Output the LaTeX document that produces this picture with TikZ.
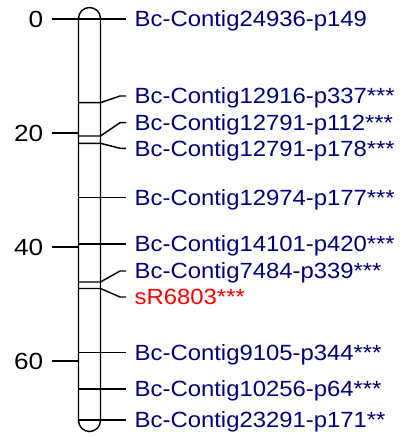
\documentclass[tikz,border=0pt]{standalone}
\usepackage{fontspec}
\setmainfont{Liberation Sans}
\usepackage{graphicx}
\definecolor{mapblue}{RGB}{0,0,128}
\definecolor{mapred}{RGB}{255,0,0}
\newcommand{\lbl}[1]{\scalebox{1.085}[1]{#1}}
\newcommand{\numlbl}[1]{\scalebox{1.12}[1]{#1}}
\tikzset{
	mapfont/.style={font=\fontsize{16.5}{19}\selectfont, text height=11.8pt, text depth=0pt},
	mk/.style={mapfont, anchor=west, inner xsep=6pt, inner ysep=0pt, text=mapblue},
	mkred/.style={mk, text=mapred},
	axlbl/.style={font=\fontsize{17.5}{20}\selectfont, text height=12.5pt, text depth=0pt, anchor=east, inner xsep=0pt, inner ysep=0pt},
	chrline/.style={line width=1.1pt, black}
}
\begin{document}
\begin{tikzpicture}[x=0.75pt, y=-0.75pt, chrline]
		\useasboundingbox (0,0) rectangle (401,438);
		% chromosome bar
		\draw[rounded corners=8.25pt] (78.5,7.5) rectangle (100.5,431.5);
		\coordinate (cl) at (78.5,0);
		
		% scale (cM) on the left
		\coordinate (a0) at (78.5,19);
		\coordinate (a20) at (78.5,133);
		\coordinate (a40) at (78.5,247);
		\coordinate (a60) at (78.5,360.8);
		\node[axlbl] (n0) at (44,19) {\numlbl{0}};
		\node[axlbl] (n20) at (44,133) {\numlbl{20}};
		\node[axlbl] (n40) at (44,247) {\numlbl{40}};
		\node[axlbl] (n60) at (44,360.8) {\numlbl{60}};
		\draw (a0) -- ([xshift=6pt]n0.east);
		\draw (a20) -- ([xshift=6pt]n20.east);
		\draw (a40) -- ([xshift=6pt]n40.east);
		\draw (a60) -- ([xshift=6pt]n60.east);
		
		% marker positions on the bar
		\coordinate (m1) at (100.5,19);
		\coordinate (m2) at (100.5,102.7);
		\coordinate (m3) at (100.5,136);
		\coordinate (m4) at (100.5,143.3);
		\coordinate (m5) at (100.5,197.7);
		\coordinate (m6) at (100.5,244);
		\coordinate (m7) at (100.5,282);
		\coordinate (m8) at (100.5,288.5);
		\coordinate (m9) at (100.5,352.5);
		\coordinate (m10) at (100.5,389);
		\coordinate (m11) at (100.5,420);
		
		% marker names
		\node[mk] (l1) at (126,19) {\lbl{Bc-Contig24936-p149}};
		\node[mk] (l2) at (126,96) {\lbl{Bc-Contig12916-p337***}};
		\node[mk] (l3) at (126,122.7) {\lbl{Bc-Contig12791-p112***}};
		\node[mk] (l4) at (126,148.3) {\lbl{Bc-Contig12791-p178***}};
		\node[mk] (l5) at (126,197.7) {\lbl{Bc-Contig12974-p177***}};
		\node[mk] (l6) at (126,244) {\lbl{Bc-Contig14101-p420***}};
		\node[mk] (l7) at (126,271) {\lbl{Bc-Contig7484-p339***}};
		\node[mkred] (l8) at (126,297) {\lbl{sR6803***}};
		\node[mk] (l9) at (126,352.5) {\lbl{Bc-Contig9105-p344***}};
		\node[mk] (l10) at (126,389) {\lbl{Bc-Contig10256-p64***}};
		\node[mk] (l11) at (126,420) {\lbl{Bc-Contig23291-p171**}};
		
		\draw (cl |- m1) -- (m1) -- ([xshift=-4.5pt]l1.west) -- (l1.west);
		\draw (cl |- m2) -- (m2) -- ([xshift=-4.5pt]l2.west) -- (l2.west);
		\draw (cl |- m3) -- (m3) -- ([xshift=-4.5pt]l3.west) -- (l3.west);
		\draw (cl |- m4) -- (m4) -- ([xshift=-4.5pt]l4.west) -- (l4.west);
		\draw (cl |- m5) -- (m5) -- ([xshift=-4.5pt]l5.west) -- (l5.west);
		\draw (cl |- m6) -- (m6) -- ([xshift=-4.5pt]l6.west) -- (l6.west);
		\draw (cl |- m7) -- (m7) -- ([xshift=-4.5pt]l7.west) -- (l7.west);
		\draw (cl |- m8) -- (m8) -- ([xshift=-4.5pt]l8.west) -- (l8.west);
		\draw (cl |- m9) -- (m9) -- ([xshift=-4.5pt]l9.west) -- (l9.west);
		\draw (cl |- m10) -- (m10) -- ([xshift=-4.5pt]l10.west) -- (l10.west);
		\draw (cl |- m11) -- (m11) -- ([xshift=-4.5pt]l11.west) -- (l11.west);
		
	\end{tikzpicture}
\end{document}
